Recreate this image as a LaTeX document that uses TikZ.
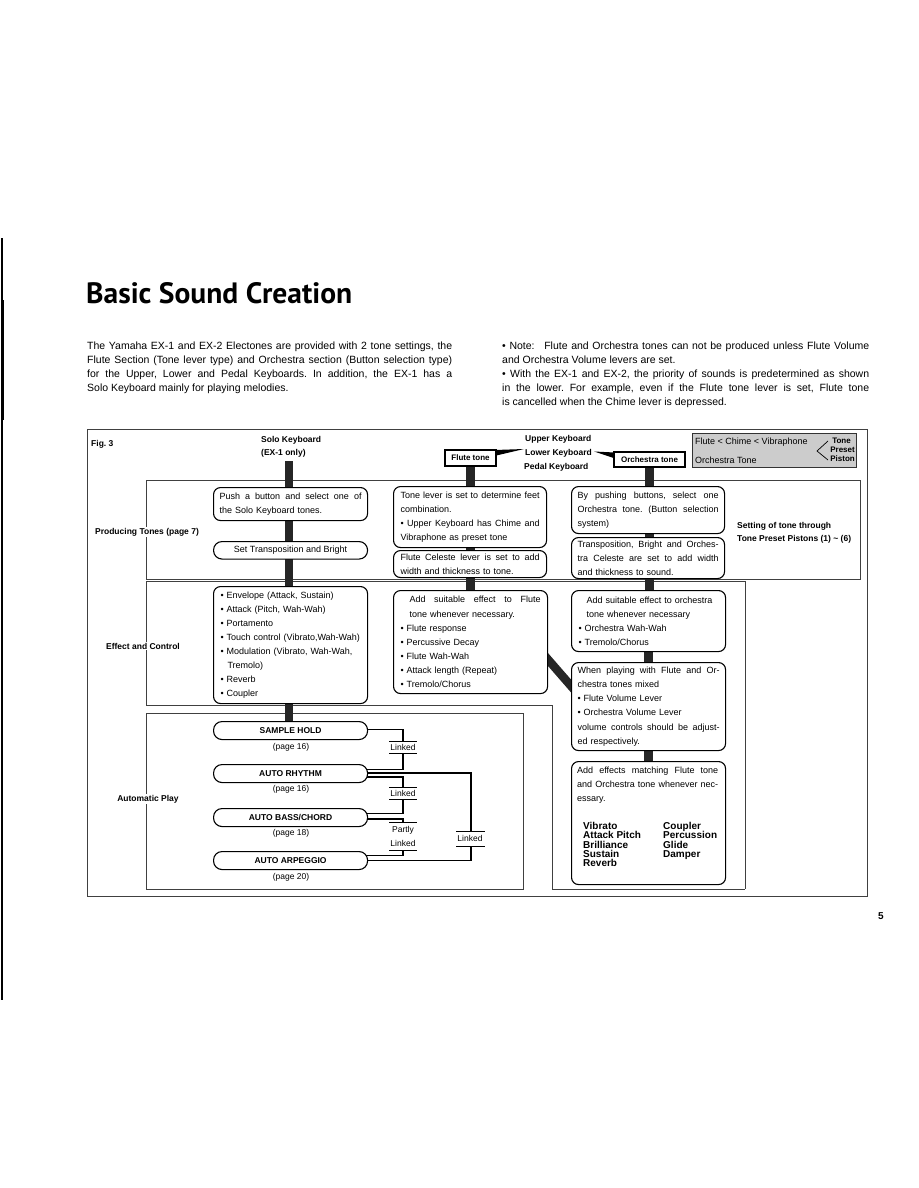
\documentclass[tikz,border=0pt]{standalone}
\usepackage{fontspec}
\usepackage{graphicx}
\setmainfont{Liberation Sans}
\newfontfamily\titlefont{PT Sans}
\usetikzlibrary{calc}
\pgfdeclarelayer{bg}
\pgfsetlayers{bg,main}
\frenchspacing
\newcommand{\J}[1]{\makebox[\hsize][s]{\spaceskip=0pt\xspaceskip=0pt #1}}
\newcommand{\JW}[2]{\makebox[#1][s]{\spaceskip=0pt\xspaceskip=0pt #2}}
\begin{document}
\begin{tikzpicture}[x=1pt,y=-1pt,
  frame/.style={draw=black!75,line width=0.8pt},
  rbox/.style={draw=black,line width=1.1pt,rounded corners=7pt,fill=white,anchor=north west,inner xsep=6pt,inner ysep=0pt,align=left,font=\fontsize{9}{14.1}\selectfont},
  pill/.style={draw=black,line width=1.1pt,rounded corners=8.5pt,fill=white,anchor=north west,inner sep=0pt,minimum width=154pt,minimum height=18pt,font=\bfseries\fontsize{8.5}{10}\selectfont},
  bar/.style={line width=8.5pt,draw=black!85},
  lbl/.style={font=\bfseries\fontsize{8.5}{10}\selectfont,inner sep=1pt},
  txt/.style={font=\fontsize{8.5}{10}\selectfont,inner sep=0pt},
  body/.style={font=\fontsize{10.5}{14}\selectfont,inner sep=0pt,anchor=base west},
  link/.style={line width=1.7pt},
  tick/.style={line width=0.7pt},
  tonebox/.style={draw=black,line width=1.1pt,fill=white,inner sep=0pt,font=\bfseries\fontsize{8}{10}\selectfont},
]
\useasboundingbox (0,0) rectangle (918,1188);

% scan edge at left
\draw[line width=1.3pt] (2,238) -- (2,1000);
\draw[line width=2.5pt] (2.5,300) -- (2.5,420);

% title and body text
\node[anchor=base west,inner sep=0pt] (title) at (86,303) {\resizebox{266pt}{21pt}{\titlefont\bfseries Basic Sound Creation}};

\node[body] (b1) at (87,349.5) {\JW{365pt}{The Yamaha EX-1 and EX-2 Electones are provided with 2 tone settings, the}};
\node[body] (b2) at (87,363.5) {\JW{365pt}{Flute Section (Tone lever type) and Orchestra section (Button selection type)}};
\node[body] (b3) at (87,377.5) {\JW{365pt}{for the Upper, Lower and Pedal Keyboards. In addition, the EX-1 has a}};
\node[body] (b4) at (87,391.5) {Solo Keyboard mainly for playing melodies.};

\node[body] (r1) at (502,349.5) {\JW{367pt}{\textbullet\ Note:\hspace{6pt} Flute and Orchestra tones can not be produced unless Flute Volume}};
\node[body] (r2) at (502,363.5) {and Orchestra Volume levers are set.};
\node[body] (r3) at (502,377.5) {\JW{367pt}{\textbullet\ With the EX-1 and EX-2, the priority of sounds is predetermined as shown}};
\node[body] (r4) at (502,391.5) {\JW{367pt}{in the lower. For example, even if the Flute tone lever is set, Flute tone}};
\node[body] (r5) at (502,405.5) {is cancelled when the Chime lever is depressed.};

% header labels
\node[lbl,anchor=west] (fig) at (90,444) {Fig. 3};
\node[lbl,anchor=west] (solo) at (260,440) {Solo Keyboard};
\node[lbl,anchor=west] (ex1) at (260,453.5) {(EX-1 only)};
\node[lbl,anchor=west] (upk) at (524,439) {Upper Keyboard};
\node[lbl,anchor=west] (lok) at (524,453) {Lower Keyboard};
\node[lbl,anchor=west] (pek) at (523,467.5) {Pedal Keyboard};
\node[tonebox,minimum width=51pt,minimum height=16pt] (ft) at (470.5,458) {Flute tone};
\node[tonebox,minimum width=71pt,minimum height=15pt] (ot) at (649.5,459.5) {Orchestra tone};
\fill ($(ft.north east)+(0,0.5)$) -- ($(ft.north east)+(0,6)$) -- ($(lok.west)+(0,-4)$) -- cycle;
\fill ($(lok.east)+(1,-1.5)$) -- ($(ot.north west)+(0,1)$) -- ($(ot.north west)+(0,6.5)$) -- cycle;

% tone preset box
\node[draw=black!80,fill=black!20,minimum width=164pt,minimum height=34pt,anchor=north west,inner sep=0pt] (tp) at (692,433) {};
\node[txt,anchor=west,font=\fontsize{9}{10}\selectfont] (tp1) at (695,442) {Flute < Chime < Vibraphone};
\node[txt,anchor=west,font=\fontsize{9}{10}\selectfont] (tp2) at (695,460) {Orchestra Tone};
\node[txt,anchor=east,font=\bfseries\fontsize{8}{9}\selectfont] (tp3) at (851,441) {Tone};
\node[txt,anchor=east,font=\bfseries\fontsize{8}{9}\selectfont] (tp4) at (855,450) {Preset};
\node[txt,anchor=east,font=\bfseries\fontsize{8}{9}\selectfont] (tp5) at (855,459) {Piston};
\draw[line width=0.7pt] (828,441) -- (817,451) -- (828,460);

\node[lbl,anchor=west,inner sep=0pt] (set1) at (737,526) {Setting of tone through};
\node[lbl,anchor=west,inner sep=0pt] (set2) at (737,539) {Tone Preset Pistons (1) \textasciitilde\ (6)};

% section labels
\node[lbl,fill=white] (lprod) at (147,532) {Producing Tones (page 7)};
\node[lbl,fill=white] (leff) at (143,646) {Effect and Control};
\node[lbl,fill=white] (lauto) at (148,799) {Automatic Play};

% boxes: producing tones
\node[rbox,text width=142pt,minimum height=33pt] (P1) at (213,487) {\J{Push a button and select one of}\\the Solo Keyboard tones.};
\node[pill,font=\fontsize{9}{10}\selectfont,minimum height=17.5pt] (P2) at (213,541) {Set Transposition and Bright};
\node[rbox,inner xsep=7pt,text width=139pt,minimum height=61pt] (F1) at (393,486) {\J{Tone lever is set to determine feet}\\combination.\\\J{\textbullet\ Upper Keyboard has Chime and}\\Vibraphone as preset tone};
\node[rbox,inner xsep=7pt,text width=139pt,minimum height=27pt] (F2) at (393,550) {\J{Flute Celeste lever is set to add}\\width and thickness to tone.};
\node[rbox,text width=141pt,minimum height=47pt] (O1) at (571,486) {\J{By pushing buttons, select one}\\\J{Orchestra tone. (Button selection}\\system)};
\node[rbox,text width=141pt,minimum height=41pt] (O2) at (571,537) {\J{Transposition, Bright and Orches-}\\\J{tra Celeste are set to add width}\\and thickness to sound.};

% effect and control
\node[rbox,inner xsep=7pt,text width=140pt,minimum height=117pt] (E1) at (213,586) {\textbullet\ Envelope (Attack, Sustain)\\\textbullet\ Attack (Pitch, Wah-Wah)\\\textbullet\ Portamento\\\textbullet\ Touch control (Vibrato,Wah-Wah)\\\textbullet\ Modulation (Vibrato, Wah-Wah,\\\hspace*{7pt}Tremolo)\\\textbullet\ Reverb\\\textbullet\ Coupler};
\node[rbox,inner xsep=7pt,text width=140pt,minimum height=103pt] (FE) at (393,590) {\hspace*{9pt}\makebox[\dimexpr\hsize-9pt\relax][s]{\spaceskip=0pt Add suitable effect to Flute}\\\hspace*{9pt}tone whenever necessary.\\\textbullet\ Flute response\\\textbullet\ Percussive Decay\\\textbullet\ Flute Wah-Wah\\\textbullet\ Attack length (Repeat)\\\textbullet\ Tremolo/Chorus};
\node[rbox,inner xsep=7pt,text width=140pt,minimum height=61pt] (OE) at (571,590) {\hspace*{8pt}Add suitable effect to orchestra\\\hspace*{8pt}tone whenever necessary\\\textbullet\ Orchestra Wah-Wah\\\textbullet\ Tremolo/Chorus};
\node[rbox,text width=142pt,minimum height=88pt] (M) at (571,662) {\J{When playing with Flute and Or-}\\chestra tones mixed\\\textbullet\ Flute Volume Lever\\\textbullet\ Orchestra Volume Lever\\\J{volume controls should be adjust-}\\ed respectively.};
\node[rbox,minimum width=154pt,minimum height=123pt] (X) at (571,761) {};
\node[anchor=north west,inner sep=0pt,text width=141pt,align=left,font=\fontsize{9}{14.1}\selectfont] (Xt) at (577,766.5) {\J{Add effects matching Flute tone}\\\J{and Orchestra tone whenever nec-}\\essary.};
\node[anchor=north west,inner sep=0pt,align=left,font={\bfseries\fontsize{10}{9.3}\selectfont\lineskiplimit=-10pt}] (Xl1) at (583,822) {Vibrato\\Attack Pitch\\Brilliance\\Sustain\\Reverb};
\node[anchor=north west,inner sep=0pt,align=left,font={\bfseries\fontsize{10}{9.3}\selectfont\lineskiplimit=-10pt}] (Xl2) at (663,822) {Coupler\\Percussion\\Glide\\Damper};

% automatic play
\node[pill] (SH) at (213,721) {SAMPLE HOLD};
\node[pill] (AR) at (213,764) {AUTO RHYTHM};
\node[pill] (ABC) at (213,808) {AUTO BASS/CHORD};
\node[pill] (AA) at (213,851) {AUTO ARPEGGIO};
\node[txt] (pg1) at (291,747) {(page 16)};
\node[txt] (pg2) at (291,789.5) {(page 16)};
\node[txt] (pg3) at (291,833.5) {(page 18)};
\node[txt] (pg4) at (291,877) {(page 20)};

\coordinate (k1) at (403,741); \coordinate (k1b) at (403,753);
\coordinate (k2) at (403,787.5); \coordinate (k2b) at (403,799.5);
\coordinate (k3) at (403,822); \coordinate (k3b) at (403,850);
\coordinate (k4) at (471,831); \coordinate (k4b) at (471,846);
\node[txt] (lk1) at (403,747) {Linked};
\node[txt] (lk2) at (403,793.5) {Linked};
\node[txt,align=center,font=\fontsize{8.5}{14}\selectfont] (lk3) at (403,836.5) {Partly\\Linked};
\node[txt] (lk4) at (470,838.5) {Linked};
\foreach \k in {k1,k1b,k2,k2b,k3,k3b}{\draw[tick] ($(\k)+(-14,0)$) -- ($(\k)+(14,0)$);}
\foreach \k in {k4,k4b}{\draw[tick] ($(\k)+(-15,0)$) -- ($(\k)+(14,0)$);}

\coordinate (solotop) at (289,461);
\node[font=\bfseries\fontsize{10}{12}\selectfont,inner sep=0pt] (pnum) at (881,916) {5};

\begin{pgfonlayer}{bg}
  % frames
  \draw[frame] (87,429) rectangle (867,896);
  \draw[frame] (146,480) rectangle (860,579);
  \draw[frame] (146,705) -- (146,581) -- (745,581) -- (745,889);
  \draw[frame] (146,705) -- (552,705) -- (552,889) -- (745,889);
  \draw[frame] (146,713) rectangle (523,889);
  % thick connectors
  \draw[bar] (solotop) -- (solotop |- SH.north);
  \draw[bar] (ft.south) -- (ft.south |- FE.north);
  \draw[bar] (ot.south) -- (ot.south |- OE.north);
  \draw[bar] (OE.south) -- (M.north);
  \draw[bar] (M.south) -- (X.north);
  \draw[bar] ($(FE.east)+(-4,13)$) -- ($(M.west)+(4,-16)$);
  % link lines
  \draw[link] ($(SH.east)+(-6,-1)$) -| (k1);
  \draw[link] (k1b) |- ($(AR.east)+(-6,-4)$);
  \draw[link] ($(AR.east)+(-6,-0.5)$) -| (k4);
  \draw[link] (k4b) |- ($(AA.east)+(-6,0)$);
  \draw[link] ($(AR.east)+(-6,3.5)$) -| (k2);
  \draw[link] (k2b) |- ($(ABC.east)+(-6,-4)$);
  \draw[link] ($(ABC.east)+(-6,1.5)$) -| (k3);
  \draw[link] (k3b) |- ($(AA.east)+(-6,-5)$);
\end{pgfonlayer}
\end{tikzpicture}
\end{document}
